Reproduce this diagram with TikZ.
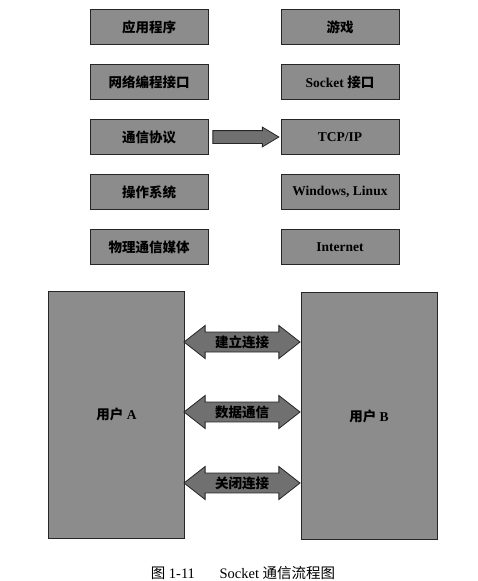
\documentclass[tikz,border=0pt]{standalone}
\usepackage{fontspec}
\setmainfont{Liberation Serif}
\newfontfamily\cjk{Noto Sans CJK SC}
\usetikzlibrary{shapes.arrows,calc}

\definecolor{boxgray}{RGB}{140,140,140}
\definecolor{arrowgray}{RGB}{112,112,112}

\tikzset{
    layer/.style={draw=black!85, line width=0.9pt, fill=boxgray,
        minimum width=118pt, minimum height=35pt,
        font=\fontsize{13.5}{15}\selectfont\bfseries},
    user/.style={draw=black!85, line width=0.9pt, fill=boxgray,
        minimum width=136pt, minimum height=247pt,
        font=\fontsize{13.5}{15}\selectfont\bfseries},
    flow/.style={single arrow, draw=black!85, line width=0.8pt, fill=arrowgray,
        minimum height=66pt, minimum width=19pt, inner xsep=0pt, inner ysep=6pt,
        single arrow head extend=3.5pt, single arrow tip angle=62},
    talk/.style={double arrow, draw=black!85, line width=0.8pt, fill=arrowgray,
        minimum height=116pt, minimum width=33pt, inner xsep=2pt, inner ysep=3pt,
        double arrow head extend=6.5pt, double arrow tip angle=76,
        font=\fontsize{13.5}{15}\selectfont\cjk\bfseries}
}

\begin{document}
\begin{tikzpicture}[x=1pt,y=-1pt]
    \useasboundingbox (0,0) rectangle (478,581);

    % layers and what sits on them
    \foreach \i/\y/\l/\r in {1/27/{\cjk 应用程序}/{\cjk 游戏},
                            2/82/{\cjk 网络编程接口}/{Socket {\cjk 接口}},
                            3/137/{\cjk 通信协议}/{TCP/IP},
                            4/192/{\cjk 操作系统}/{Windows, Linux},
                            5/247/{\cjk 物理通信媒体}/{Internet}} {
        \node[layer] (p\i) at (149,\y) {\l};
        \node[layer] (t\i) at (340,\y) {\r};
    }
    \node[flow, anchor=tail] (pt) at ($(p3.east)+(4,0)$) {};

    % the two ends
    \node[user] (ua) at (116.5,414.5) {{\cjk 用户} A};
    \node[user] (ub) at (369,416) {{\cjk 用户} B};

    \foreach \j/\y/\t in {1/342/建立连接, 2/412/数据通信, 3/483/关闭连接} {
        \node[talk] (ab\j) at (242,\y) {\t};
    }

    \node[font=\fontsize{14.5}{16}\selectfont] (cap) at (243,573)
        {{\cjk 图} 1-11\hspace{1.7em}Socket {\cjk 通信流程图}};
\end{tikzpicture}
\end{document}
